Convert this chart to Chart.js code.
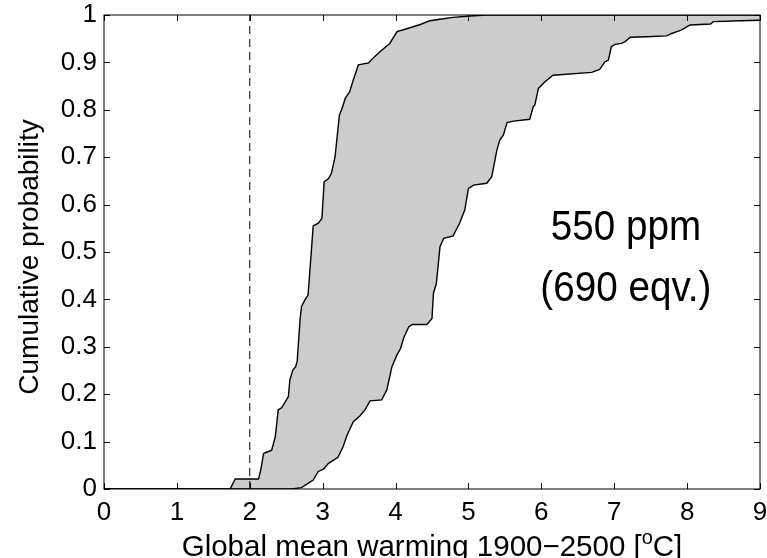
<!DOCTYPE html>
<html>
<head>
<meta charset="utf-8">
<script src="https://cdn.jsdelivr.net/npm/chart.js@4/dist/chart.umd.min.js"></script>
<style>
  html, body { margin: 0; padding: 0; background: #fff; }
  canvas { display: block; }
</style>
</head>
<body>
<canvas id="myChart" width="767" height="558"></canvas>
<script>
'use strict';

// tick labels
const xTickLabels = ['0', '1', '2', '3', '4', '5', '6', '7', '8', '9'];
const yTickLabels = ['0', '0.1', '0.2', '0.3', '0.4', '0.5', '0.6', '0.7', '0.8', '0.9', '1'];

// left (upper) bound of the cumulative probability band
const upperX = [0, 1.73, 1.80, 2.12, 2.15, 2.19, 2.22, 2.30, 2.35, 2.39, 2.44, 2.53, 2.55, 2.59,
  2.63, 2.65, 2.69, 2.71, 2.76, 2.80, 2.87, 2.94, 2.99, 3.02, 3.08, 3.12, 3.17, 3.23, 3.26,
  3.31, 3.37, 3.42, 3.49, 3.63, 3.69, 3.79, 3.92, 4.02, 4.13, 4.34, 4.47, 4.61, 4.79, 5.02,
  5.25, 9];
const upperY = [0, 0, 0.021, 0.021, 0.04, 0.075, 0.077, 0.082, 0.110, 0.167, 0.172, 0.195, 0.23,
  0.251, 0.258, 0.269, 0.357, 0.385, 0.40, 0.409, 0.555, 0.561, 0.571, 0.648, 0.655, 0.666,
  0.701, 0.789, 0.800, 0.824, 0.838, 0.863, 0.895, 0.899, 0.909, 0.923, 0.940, 0.965, 0.970,
  0.980, 0.988, 0.991, 0.995, 0.998, 1, 1];

// right (lower) bound of the band
const lowerX = [0, 2.57, 2.71, 2.80, 2.87, 2.94, 3.01, 3.08, 3.15, 3.21, 3.28, 3.33, 3.42, 3.51,
  3.58, 3.65, 3.81, 3.88, 3.95, 4.02, 4.07, 4.11, 4.18, 4.23, 4.43, 4.50, 4.52, 4.56, 4.61,
  4.66, 4.79, 4.88, 4.95, 5.00, 5.07, 5.25, 5.32, 5.39, 5.43, 5.48, 5.53, 5.62, 5.84, 5.89,
  5.91, 5.96, 6.05, 6.16, 6.69, 6.80, 6.87, 6.92, 6.96, 7.01, 7.10, 7.15, 7.22, 7.44, 7.72,
  7.79, 7.86, 7.92, 8.04, 8.32, 8.36, 8.73, 9];
const lowerY = [0, 0, 0.003, 0.012, 0.019, 0.037, 0.042, 0.054, 0.061, 0.067, 0.089, 0.112, 0.142,
  0.154, 0.167, 0.186, 0.188, 0.209, 0.258, 0.283, 0.297, 0.318, 0.342, 0.347, 0.347, 0.360,
  0.413, 0.434, 0.511, 0.529, 0.534, 0.561, 0.589, 0.634, 0.641, 0.645, 0.659, 0.715, 0.736,
  0.747, 0.773, 0.776, 0.780, 0.807, 0.810, 0.845, 0.859, 0.873, 0.879, 0.885, 0.901, 0.905,
  0.933, 0.938, 0.940, 0.944, 0.953, 0.954, 0.956, 0.961, 0.965, 0.968, 0.979, 0.981, 0.986,
  0.988, 0.989];

// 2 degree threshold line
const thresholdX = [2, 2];
const thresholdY = [0, 1];

// texts
const noteLines = ['550 ppm', '(690 eqv.)'];
const xTitleParts = ['Global mean warming 1900\u22122500 [', 'o', 'C]'];
const yTitle = 'Cumulative probability';

const FONT = '"Liberation Sans", Arial, Helvetica, sans-serif';

// turning two value lists into {x, y} points
function toPoints(xs, ys){
  return xs.map(function(x, i){ return {x: x, y: ys[i]}; });
}

// box, inward ticks and the texts the axes don't draw themselves
const frame = {
  id: 'frame',
  afterDraw(chart){
    const ctx = chart.ctx;
    const area = chart.chartArea;
    const xs = chart.scales.x;
    const ys = chart.scales.y;
    ctx.save();
    ctx.strokeStyle = '#000';
    ctx.lineWidth = 1;
    ctx.strokeRect(area.left, area.top, area.right - area.left, area.bottom - area.top);
    // ticks pointing into the plot, on all four sides
    const tl = 6;
    ctx.beginPath();
    xs.ticks.forEach(function(t){
      const px = Math.round(xs.getPixelForValue(t.value)) + 0.5;
      ctx.moveTo(px, area.bottom); ctx.lineTo(px, area.bottom - tl);
      ctx.moveTo(px, area.top); ctx.lineTo(px, area.top + tl);
    });
    ys.ticks.forEach(function(t){
      const py = Math.round(ys.getPixelForValue(t.value)) + 0.5;
      ctx.moveTo(area.left, py); ctx.lineTo(area.left + tl, py);
      ctx.moveTo(area.right, py); ctx.lineTo(area.right - tl, py);
    });
    ctx.stroke();

    ctx.fillStyle = '#000';
    // scenario note, narrow lettering
    ctx.textAlign = 'center';
    ctx.textBaseline = 'alphabetic';
    ctx.font = '42px ' + FONT;
    const nx = xs.getPixelForValue(7.16);
    const nys = [ys.getPixelForValue(0.525), ys.getPixelForValue(0.396)];
    noteLines.forEach(function(line, i){
      ctx.save();
      ctx.translate(nx, nys[i]);
      ctx.scale(0.92, 1);
      ctx.fillText(line, 0, 0);
      ctx.restore();
    });

    // x axis title with superscript o
    ctx.textAlign = 'left';
    const big = '29.5px ' + FONT;
    const small = '20px ' + FONT;
    ctx.font = big;
    const w0 = ctx.measureText(xTitleParts[0]).width;
    const w2 = ctx.measureText(xTitleParts[2]).width;
    ctx.font = small;
    const w1 = ctx.measureText(xTitleParts[1]).width;
    let tx = (area.left + area.right) / 2 - (w0 + w1 + w2) / 2;
    const base = 556;
    ctx.font = big;
    ctx.fillText(xTitleParts[0], tx, base);
    tx += w0;
    ctx.font = small;
    ctx.fillText(xTitleParts[1], tx, base - 12);
    tx += w1;
    ctx.font = big;
    ctx.fillText(xTitleParts[2], tx, base);

    // y axis title
    ctx.save();
    ctx.translate(38, (area.top + area.bottom) / 2 + 5);
    ctx.rotate(-Math.PI / 2);
    ctx.textAlign = 'center';
    ctx.font = '28px ' + FONT;
    ctx.fillText(yTitle, 0, 0);
    ctx.restore();
    ctx.restore();
  }
};

const ctx = document.getElementById('myChart').getContext('2d');
const chart = new Chart(ctx, {
  type: 'line',
  data: {
    datasets: [{
      // threshold drawn last so it sits on top
      data: toPoints(thresholdX, thresholdY),
      borderColor: '#000',
      borderWidth: 1,
      borderDash: [8, 5],
      pointRadius: 0,
      fill: false
    }, {
      data: toPoints(upperX, upperY),
      borderColor: '#000',
      borderWidth: 1.4,
      pointRadius: 0,
      tension: 0,
      fill: false
    }, {
      data: toPoints(lowerX, lowerY),
      borderColor: '#000',
      borderWidth: 1.4,
      backgroundColor: '#cccccc',
      pointRadius: 0,
      tension: 0,
      fill: '-1'
    }]
  },
  options: {
    responsive: false,
    animation: false,
    layout: {padding: {top: 15, right: 7, left: 0, bottom: 0}},
    plugins: {legend: {display: false}, tooltip: {enabled: false}},
    scales: {
      x: {
        type: 'linear',
        min: 0,
        max: 9,
        grid: {display: false, drawTicks: false},
        border: {display: false},
        ticks: {
          stepSize: 1,
          padding: 8,
          maxRotation: 0,
          autoSkip: false,
          color: '#000',
          font: {family: FONT, size: 26},
          callback: function(v, i){ return xTickLabels[i]; }
        },
        afterFit: function(scale){
          scale.height = 69;
          scale.paddingLeft = 0;
          scale.paddingRight = 0;
        }
      },
      y: {
        min: 0,
        max: 1,
        grid: {display: false, drawTicks: false},
        border: {display: false},
        ticks: {
          stepSize: 0.1,
          padding: 7,
          autoSkip: false,
          color: '#000',
          font: {family: FONT, size: 26},
          callback: function(v, i){ return yTickLabels[i]; }
        },
        afterFit: function(scale){
          scale.width = 104;
          scale.paddingTop = 0;
          scale.paddingBottom = 0;
        }
      }
    }
  },
  plugins: [frame]
});
</script>
</body>
</html>
